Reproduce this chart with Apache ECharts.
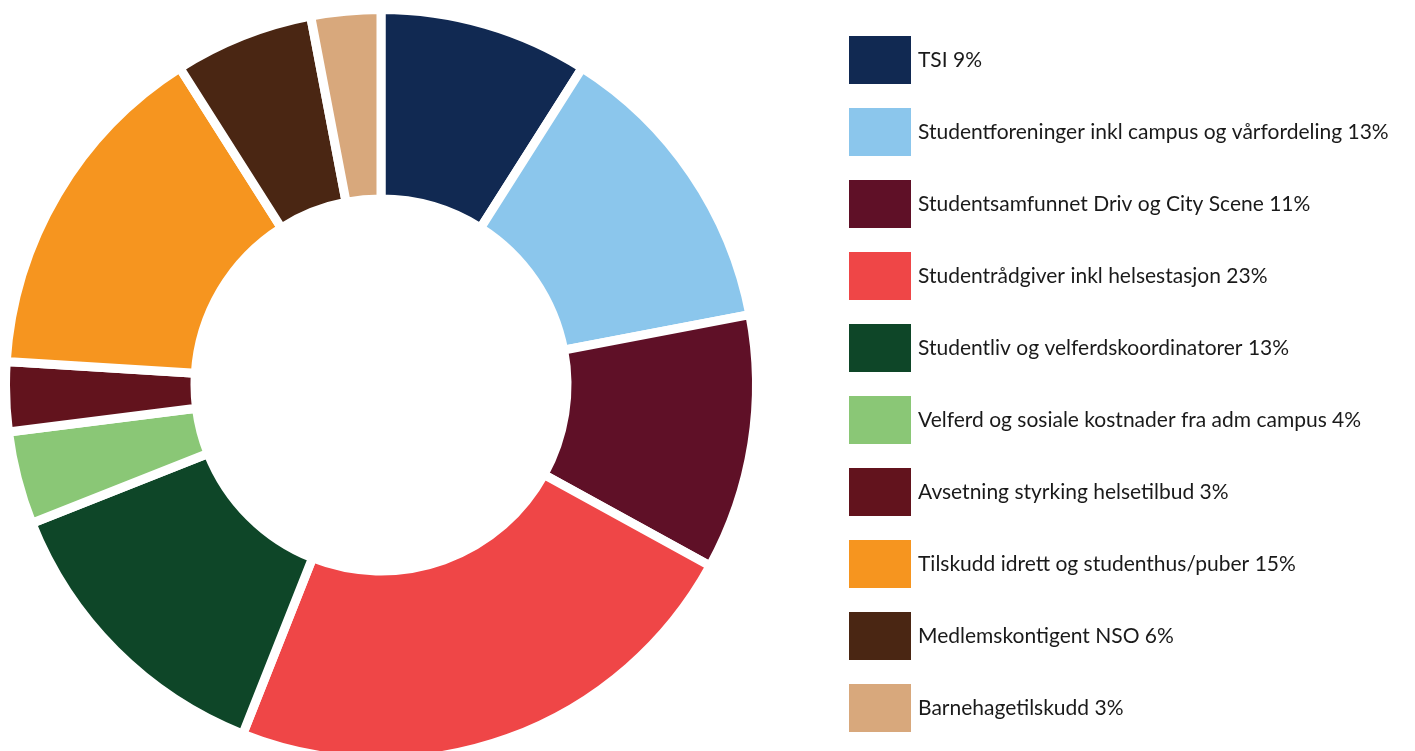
<!DOCTYPE html>
<html>
<head>
<meta charset="utf-8">
<script src="https://cdn.jsdelivr.net/npm/echarts@6/dist/echarts.min.js"></script>
<style>
html,body{margin:0;padding:0;background:#fff;}
#c{width:1415px;height:751px;}
</style>
</head>
<body>
<div id="c"></div>
<script>
const categories = [
  "TSI 9%",
  "Studentforeninger inkl campus og vårfordeling 13%",
  "Studentsamfunnet Driv og City Scene 11%",
  "Studentrådgiver inkl helsestasjon 23%",
  "Studentliv og velferdskoordinatorer 13%",
  "Velferd og sosiale kostnader fra adm campus 4%",
  "Avsetning styrking helsetilbud 3%",
  "Tilskudd idrett og studenthus/puber 15%",
  "Medlemskontigent NSO 6%",
  "Barnehagetilskudd 3%"
];
const values = [9, 13, 11, 23, 13, 4, 3, 15, 6, 3];
const colors = ["#112952", "#8BC6EC", "#5F1027", "#EF4647", "#0E4628", "#8AC776", "#62131D", "#F6951F", "#4A2613", "#D8A87C"];

const chart = echarts.init(document.getElementById('c'));
chart.setOption({
  animation: false,
  color: colors,
  legend: {
    orient: 'vertical',
    left: 849,
    top: 36,
    padding: 0,
    itemWidth: 62,
    itemHeight: 48,
    itemGap: 24,
    icon: 'rect',
    itemStyle: { borderWidth: 0 },
    textStyle: { fontSize: 21, color: '#1a1a1a', fontFamily: 'Lato', padding: [0, 0, 0, 2] },
    data: categories
  },
  series: [{
    type: 'pie',
    center: [381, 385],
    radius: [186, 375.5],
    startAngle: 90,
    clockwise: true,
    label: { show: false },
    labelLine: { show: false },
    itemStyle: { borderColor: '#fff', borderWidth: 9 },
    emphasis: { disabled: true },
    data: categories.map((n, i) => ({ name: n, value: values[i] }))
  }]
});
</script>
</body>
</html>
